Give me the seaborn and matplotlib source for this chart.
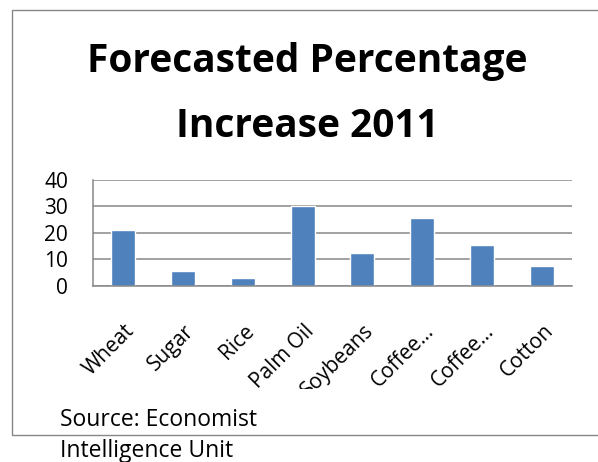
import matplotlib
matplotlib.use("Agg")
import matplotlib.pyplot as plt
import seaborn as sns
import pandas as pd
from matplotlib.patches import Rectangle
from matplotlib.transforms import Bbox, TransformedBbox, ScaledTranslation

categories = ["Wheat", "Sugar", "Rice", "Palm Oil", "Soybeans",
              "Coffee (Arabica)", "Coffee (Robusta)", "Cotton"]
tick_labels = ["Wheat", "Sugar", "Rice", "Palm Oil", "Soybeans",
               "Coffee…", "Coffee…", "Cotton"]
values = [21, 5.7, 2.8, 30, 12.5, 25.5, 15.2, 7.4]
y_ticks = [0, 10, 20, 30, 40]

sns.set_style("white")
plt.rcParams["font.family"] = ["Open Sans", "DejaVu Sans"]
for k in ["text.color", "xtick.color", "ytick.color", "axes.labelcolor"]:
    plt.rcParams[k] = "black"

W, H = 598, 462
fig = plt.figure(figsize=(W / 100, H / 100), dpi=100)
ax = fig.add_axes([93 / W, (H - 285.7) / H, 479 / W, 106 / H])

df = pd.DataFrame({"cat": categories, "val": values})
sns.barplot(data=df, x="cat", y="val", color="#4F81BD", width=0.4,
            saturation=1, ax=ax, order=categories)

grid_c = "#878787"
ax.set_ylim(0, 40)
ax.set_yticks(y_ticks)
ax.set_yticklabels([str(t) for t in y_ticks], fontsize=15)
ax.yaxis.grid(True, color=grid_c, lw=1.1)
ax.set_axisbelow(True)
for s in ["top", "right"]:
    ax.spines[s].set_visible(False)
for s in ["left", "bottom"]:
    ax.spines[s].set_color(grid_c)
    ax.spines[s].set_linewidth(1.1)
ax.tick_params(axis="y", length=3, width=1.1, color=grid_c, pad=15, labelcolor="black")
ax.tick_params(axis="x", length=0, pad=25, labelcolor="black")
ax.set_xlabel("")
ax.set_ylabel("")
ax.set_xticks(range(len(categories)))
ax.set_xticklabels(tick_labels, rotation=45, ha="right", va="top",
                   rotation_mode="anchor", fontsize=15)

clip = TransformedBbox(Bbox([[0, (H - 389) / H], [1, 1]]), fig.transFigure)
shift = ScaledTranslation(1 / 100, 0, fig.dpi_scale_trans)
for lbl in ax.get_xticklabels():
    lbl.set_transform(lbl.get_transform() + shift)
    lbl.set_clip_box(clip)
    lbl.set_clip_on(True)

fig.text(307 / W, 1 - 71.7 / H, "Forecasted Percentage", ha="center", va="baseline",
         fontsize=28, fontweight="bold", color="black")
fig.text(307 / W, 1 - 136.7 / H, "Increase 2011", ha="center", va="baseline",
         fontsize=28, fontweight="bold", color="black")

fig.text(60 / W, 1 - 425.7 / H, "Source: Economist", ha="left", va="baseline",
         fontsize=16.5, color="black")
fig.text(60 / W, 1 - 457 / H, "Intelligence Unit", ha="left", va="baseline",
         fontsize=16.5, color="black")

fig.patches.append(Rectangle((12 / W, (H - 435) / H), 1.0, (435 - 9.5) / H,
                             transform=fig.transFigure, fill=False,
                             edgecolor=grid_c, lw=1.0))

fig.savefig("out.png", dpi=100)
